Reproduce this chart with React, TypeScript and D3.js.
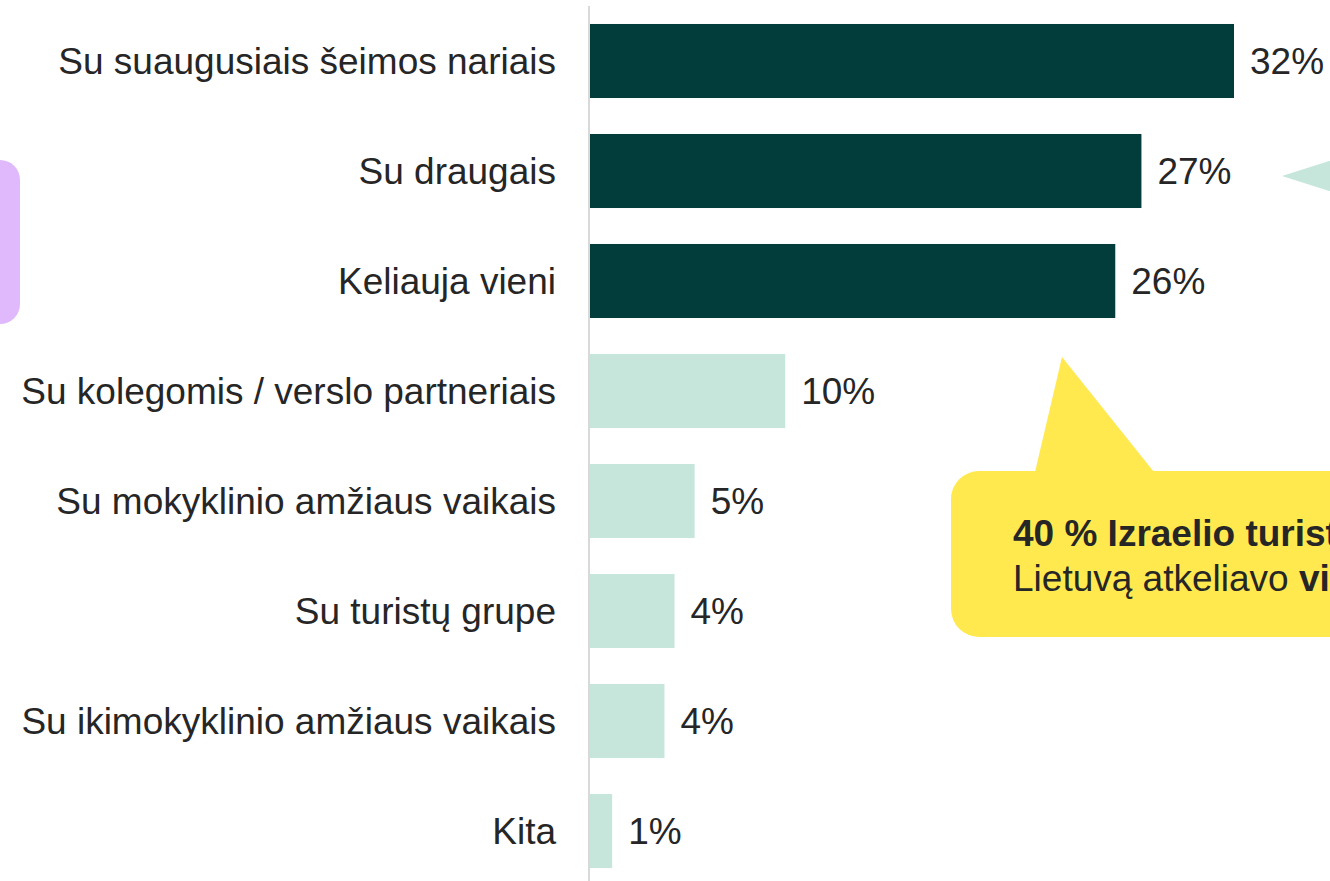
import React from "react";
import * as d3 from "d3";

const categories = [
  "Su suaugusiais šeimos nariais",
  "Su draugais",
  "Keliauja vieni",
  "Su kolegomis / verslo partneriais",
  "Su mokyklinio amžiaus vaikais",
  "Su turistų grupe",
  "Su ikimokyklinio amžiaus vaikais",
  "Kita",
];
const values = [32.0, 27.4, 26.1, 9.7, 5.2, 4.2, 3.7, 1.1];
const valueLabels = ["32%", "27%", "26%", "10%", "5%", "4%", "4%", "1%"];
const highlighted = [true, true, true, false, false, false, false, false];

const W = 1330;
const H = 881;
const DARK = "#033d3b";
const LIGHT = "#c6e6dc";
const TEXT = "#262626";
const FONT = "'Liberation Sans', Arial, sans-serif";

export default function App() {
  const x = d3.scaleLinear().domain([0, 32]).range([590, 1234]);
  const y = d3
    .scaleBand<string>()
    .domain(categories)
    .range([6, 886])
    .paddingInner(0.327)
    .paddingOuter(0.1635);

  return (
    <div style={{ position: "fixed", left: 0, top: 0 }}>
      <svg width={W} height={H} style={{ display: "block" }} fontFamily={FONT}>
        <rect x={0} y={0} width={W} height={H} fill="#ffffff" />
        <rect x={-40} y={160} width={60} height={164} rx={20} fill="#e0b8fc" />
        <polygon points="1282,176 1345,156 1345,196" fill={LIGHT} />
        <line x1={589} x2={589} y1={6} y2={881} stroke="#d9d9d9" strokeWidth={2} />
        {categories.map((c, i) => {
          const by = y(c)!;
          const bh = y.bandwidth();
          const cy = by + bh / 2;
          return (
            <g key={c}>
              <rect
                x={x(0)}
                y={by}
                width={x(values[i]) - x(0)}
                height={bh}
                fill={highlighted[i] ? DARK : LIGHT}
              />
              <text
                x={556}
                y={cy}
                dy="0.35em"
                textAnchor="end"
                fontSize={37}
                fill={TEXT}
              >
                {c}
              </text>
              <text
                x={x(values[i]) + 16}
                y={cy}
                dy="0.35em"
                fontSize={37}
                fill={TEXT}
              >
                {valueLabels[i]}
              </text>
            </g>
          );
        })}
        <polygon points="1035,472 1062,357 1154,472" fill="#ffe94f" />
        <rect x={951} y={471} width={420} height={166} rx={28} fill="#ffe94f" />
        <text x={1013} y={546} fontSize={37} fill={TEXT} fontWeight="bold">
          40 % Izraelio turistų į
        </text>
        <text x={1013} y={591} fontSize={37} fill={TEXT}>
          Lietuvą atkeliavo <tspan fontWeight="bold">vieni</tspan>
        </text>
      </svg>
    </div>
  );
}
